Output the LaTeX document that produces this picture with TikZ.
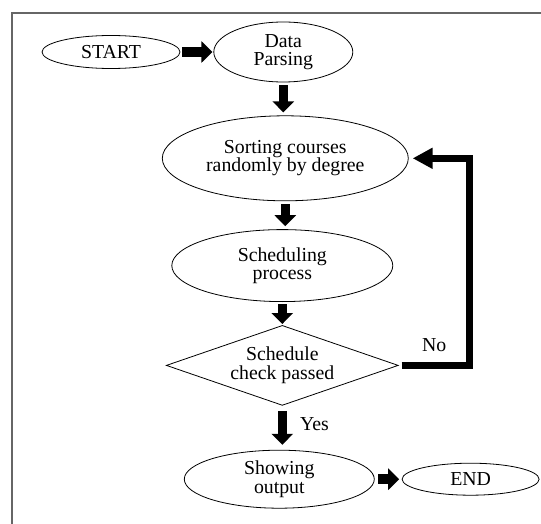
\documentclass[tikz,border=0pt]{standalone}
\usepackage{fontspec}
\setmainfont{Liberation Serif}
\usetikzlibrary{positioning, arrows.meta, shapes.geometric}
\tikzset{%
  every terminal/.style={
    ellipse,
    draw,
    line width=0.8pt,
    inner sep=0pt,
    minimum width=138pt,
    minimum height=33pt
  },
  every process/.style={
    ellipse,
    draw,
    line width=0.8pt,
    inner sep=0pt,
    align=center
  },
  every decision/.style={
    diamond,
    draw,
    line width=0.8pt,
    inner sep=0pt,
    aspect=2.9,
    align=center,
    minimum width=232pt,
    minimum height=80pt
  },
  every block/.style={
    line width=9.5pt,
    -{Triangle[width=21pt,length=11pt]},
    shorten <=3pt,
    shorten >=3pt
  },
  every loop/.style={
    line width=6.5pt,
    line join=miter,
    -{Triangle[width=20pt,length=20pt]},
    shorten <=3pt,
    shorten >=4pt
  }
}

\begin{document}
\begin{tikzpicture}[x=1pt, y=-1pt, font=\fontsize{19.8}{18.5}\selectfont]
		\useasboundingbox (0,0) rectangle (541,524);
		%% frame
		\draw[black!60, line width=1.3pt] (12,524) |- (541,13);
		%% top row
		\node[every terminal] (start) at (111,52) {START};
		\node[every process, minimum width=139pt, minimum height=60pt, right=33pt of start] (parse) {Data\\Parsing};
		%% main column
		\node[every process, minimum width=246pt, minimum height=85pt, xshift=2pt, below=33pt of parse] (sort) {Sorting courses\\randomly by degree};
		\node[every process, minimum width=221pt, minimum height=72pt, xshift=-3pt, below=28pt of sort] (sched) {Scheduling\\process};
		\node[every decision, below=23pt of sched] (check) {Schedule\\check passed};
		\node[every process, minimum width=190pt, minimum height=58pt, xshift=-3pt, below=44pt of check] (show) {Showing\\output};
		\node[every terminal, minimum width=137pt, minimum height=32pt, right=27pt of show] (end) {END};
		\coordinate[right=61pt of sort.east] (turn);
		%% connections
		\draw[every block, shorten <=2pt, shorten >=1pt] (start) -- (parse);
		\draw[every block] (parse) -- (parse |- sort.north);
		\draw[every block] (sort) -- (sort |- sched.north);
		\draw[every block, shorten <=2pt, shorten >=1pt] (sched) -- (sched |- check.north);
		\draw[every block, shorten <=5pt, shorten >=5pt] (check) -- node[pos=0.42, right=11pt, inner sep=2pt] {Yes} (check |- show.north);
		\draw[every block, shorten <=3.5pt, shorten >=2.5pt] (show) -- (end);
		% no branch
		\draw[every loop] (check.east) -| node[pos=0.25, above=8pt, inner sep=2pt] {No} (turn) |- (sort.east);
	\end{tikzpicture}
\end{document}
